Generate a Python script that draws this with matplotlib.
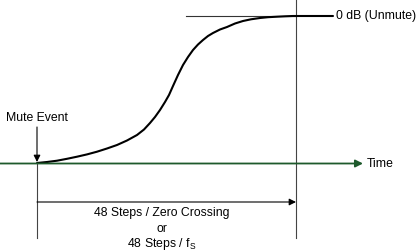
import matplotlib.pyplot as plt

plt.rcParams['font.family'] = ['Liberation Sans', 'DejaVu Sans']

# gain curve (pixel units, y grows downward)
curve_x = [37, 47, 57, 67, 77, 87, 97, 107, 117, 127, 137, 144, 150, 155, 160,
           165, 169, 173, 178, 183, 188, 193, 198, 203, 208, 213, 220, 227, 235,
           243, 251, 260, 268, 277, 285, 293, 333]
curve_y = [163, 162, 160.7, 158.8, 156.7, 154.4, 151.7, 148.5, 145, 140.5, 135,
           129.5, 123, 117, 110, 102, 95, 86, 75, 65, 57, 50, 44.5, 40, 36, 33,
           29.5, 27, 23.5, 21, 19.3, 18, 17.2, 16.7, 16.3, 16, 16]

time_label = 'Time'
unmute_label = '0 dB (Unmute)'
event_label = 'Mute Event'
span_lines = ['48 Steps / Zero Crossing', 'or', '48 Steps / f$_\\mathregular{S}$']

green = '#1e5a2c'
fs = 8.8

fig = plt.figure(figsize=(4.17, 2.52), dpi=100)
ax = fig.add_axes([0, 0, 1, 1])
ax.set_xlim(0, 417)
ax.set_ylim(252, 0)
ax.axis('off')

# reference lines
ax.plot([37, 37], [163, 238], color='#444444', lw=0.8)
ax.plot([296, 296], [0, 238], color='#444444', lw=0.8)
ax.plot([186, 296], [16, 16], color='#333333', lw=0.8)

# time axis
ax.annotate('', xy=(363, 163.5), xytext=(0, 163.5),
            arrowprops=dict(arrowstyle='-|>', color=green, lw=1.3,
                            mutation_scale=11, shrinkA=0, shrinkB=0))
ax.text(367, 164, time_label, fontsize=fs, va='center', ha='left')

# gain curve
ax.plot(curve_x, curve_y, color='black', lw=1.5, solid_capstyle='round',
        solid_joinstyle='round')
ax.text(336, 16, unmute_label, fontsize=fs, va='center', ha='left')

# mute event arrow
ax.annotate('', xy=(37, 162), xytext=(37, 127),
            arrowprops=dict(arrowstyle='-|>', color='black', lw=0.8,
                            mutation_scale=10, shrinkA=0, shrinkB=0))
ax.text(6, 118, event_label, fontsize=fs, va='center', ha='left')

# duration arrow
ax.annotate('', xy=(296, 202), xytext=(37, 202),
            arrowprops=dict(arrowstyle='-|>', color='black', lw=0.8,
                            mutation_scale=10, shrinkA=0, shrinkB=0))
for yy, s in zip([213, 229, 244], span_lines):
    ax.text(162, yy, s, fontsize=fs, va='center', ha='center')

fig.savefig('out.png', dpi=100)
